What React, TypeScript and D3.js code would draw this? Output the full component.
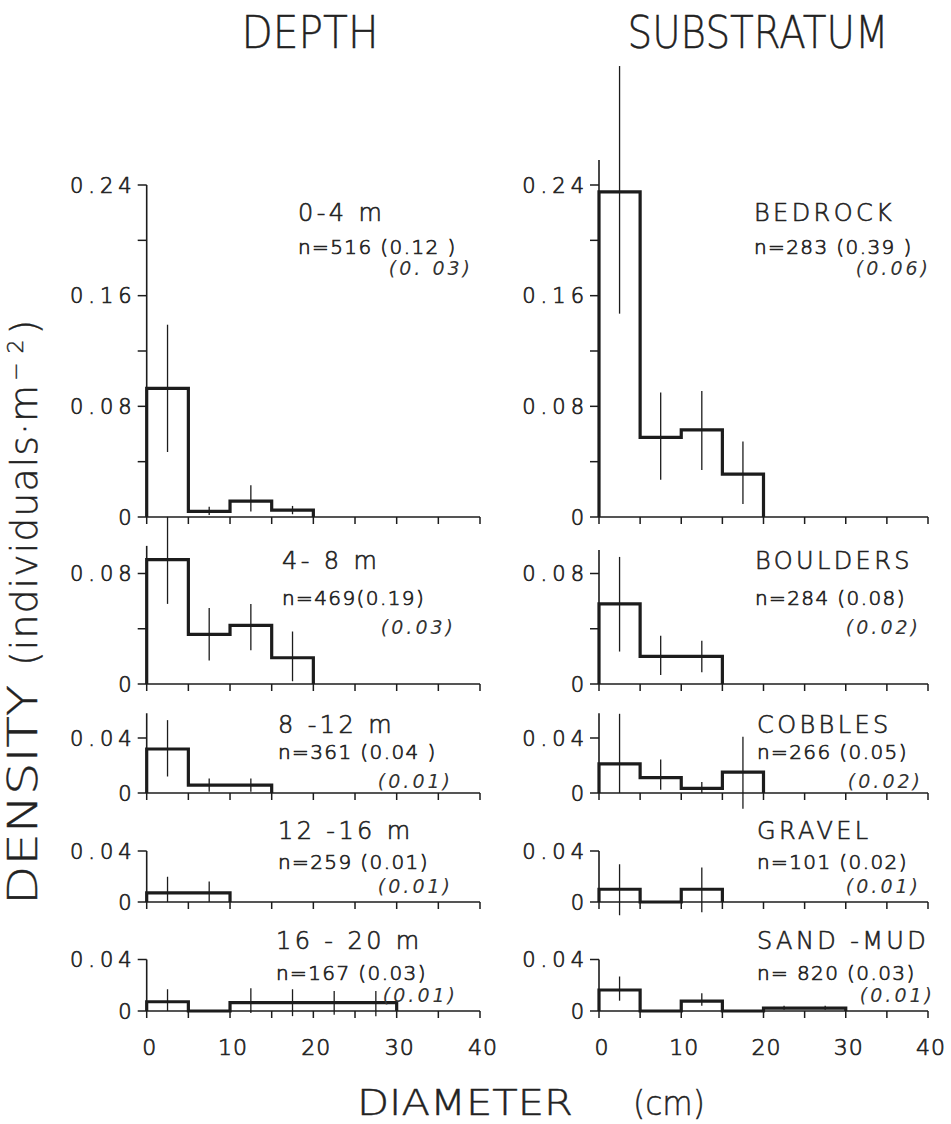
import React from "react";
import * as d3 from "d3";

// Diameter classes (cm): each value below is the density of one 5-cm class.
const binEdges = [0, 5, 10, 15, 20, 25, 30];
const xTicks = [0, 5, 10, 15, 20, 25, 30, 35, 40];
const xTickLabels = [0, 10, 20, 30, 40];

// DEPTH column
const depthNames = ["0-4 m", "4- 8 m", "8 -12 m", "12 -16 m", "16 - 20 m"];
const depthN = ["n=516 (0.12 )", "n=469(0.19)", "n=361 (0.04 )", "n=259 (0.01)", "n=167 (0.03)"];
const depthSE = ["(0. 03)", "(0.03)", "(0.01)", "(0.01)", "(0.01)"];
const depthDensity = [
  [0.093, 0.004, 0.0115, 0.005, 0, 0],
  [0.09, 0.036, 0.0425, 0.019, 0, 0],
  [0.032, 0.0057, 0.0057, 0, 0, 0],
  [0.0072, 0.0072, 0, 0, 0, 0],
  [0.0072, 0, 0.0065, 0.0065, 0.0065, 0.0065],
];
const depthLow = [
  [0.047, 0.0015, 0.004, 0.002, null, null],
  [0.058, 0.017, 0.0245, 0.002, null, null],
  [0.012, 0.001, 0.001, null, null, null],
  [0, 0, null, null, null, null],
  [0, null, -0.0015, -0.004, -0.003, -0.004],
];
const depthHigh = [
  [0.139, 0.0075, 0.023, 0.008, null, null],
  [0.121, 0.055, 0.058, 0.038, null, null],
  [0.053, 0.0106, 0.0106, null, null, null],
  [0.0198, 0.016, null, null, null, null],
  [0.0169, null, 0.0176, 0.0169, 0.0155, 0.0155],
];

// SUBSTRATUM column
const substrateNames = ["BEDROCK", "BOULDERS", "COBBLES", "GRAVEL", "SAND -MUD"];
const substrateN = ["n=283 (0.39 )", "n=284 (0.08)", "n=266 (0.05)", "n=101 (0.02)", "n= 820 (0.03)"];
const substrateSE = ["(0.06)", "(0.02)", "(0.02)", "(0.01)", "(0.01)"];
const substrateDensity = [
  [0.235, 0.0576, 0.063, 0.031, 0, 0],
  [0.058, 0.02, 0.02, 0, 0, 0],
  [0.0212, 0.0112, 0.0034, 0.0152, 0, 0],
  [0.01, 0, 0.01, 0, 0, 0],
  [0.0163, 0, 0.0077, 0, 0.0023, 0.0023],
];
const substrateLow = [
  [0.147, 0.027, 0.034, 0.0094, null, null],
  [0.0235, 0.0066, 0.0085, null, null, null],
  [0, 0.0024, 0, -0.0114, null, null],
  [-0.0104, null, -0.008, null, null, null],
  [0.008, null, 0.004, null, 0.001, 0.001],
];
const substrateHigh = [
  [0.326, 0.09, 0.091, 0.0545, null, null],
  [0.092, 0.035, 0.0314, null, null, null],
  [0.0576, 0.0243, 0.008, 0.041, null, null],
  [0.0296, null, 0.027, null, null, null],
  [0.0268, null, 0.0138, null, 0.004, 0.004],
];

// y-axis ticks per row
const rowTicks = [
  [0, 0.04, 0.08, 0.12, 0.16, 0.2, 0.24],
  [0, 0.04, 0.08],
  [0, 0.04],
  [0, 0.04],
  [0, 0.04],
];
const rowTickLabels = [
  [0, 0.08, 0.16, 0.24],
  [0, 0.08],
  [0, 0.04],
  [0, 0.04],
  [0, 0.04],
];

// ---- layout ----
const W = 951;
const H = 1124;
const FONT = "'DejaVu Sans', Verdana, sans-serif";
const INK = "#1c1c1c";
const TEXT_INK = "#222";

// light face, thickened slightly with a matching outline
const lettering = (w: number) => ({ fontWeight: 200, stroke: TEXT_INK, strokeWidth: w, fill: TEXT_INK });

const columns = [
  { x0: 146.7, x1: 480, nameX: [298, 282, 278, 278, 276], seX: [470, 453, 450, 450, 455], axisTop: [0.24, 0.1, 0.058, 0.04, 0.04] },
  { x0: 599, x1: 928, nameX: [754, 755, 757, 757, 757], seX: [928, 918, 920, 918, 932], axisTop: [0.258, 0.097, 0.058, 0.04, 0.04] },
];

// zero line, reference tick value and its pixel position, text baselines
const rows = [
  { zero: 517, refV: 0.24, refY: 185, text: [221, 254, 275] },
  { zero: 684, refV: 0.08, refY: 573.5, text: [569, 605, 634] },
  { zero: 793, refV: 0.04, refY: 738, text: [733, 759, 788] },
  { zero: 902, refV: 0.04, refY: 851, text: [839, 869, 893] },
  { zero: 1011, refV: 0.04, refY: 959.5, text: [949, 980, 1002] },
];

const fmtY = (v: number) => (v === 0 ? "0" : d3.format(".2f")(v));

type PanelProps = {
  col: number;
  row: number;
  density: number[];
  low: (number | null)[];
  high: (number | null)[];
  name: string;
  nText: string;
  seText: string;
};

function Panel({ col, row, density, low, high, name, nText, seText }: PanelProps) {
  const c = columns[col];
  const r = rows[row];
  const x = d3.scaleLinear().domain([0, 40]).range([c.x0, c.x1]);
  const y = d3.scaleLinear().domain([0, r.refV]).range([r.zero, r.refY]);

  // step outline of the histogram
  let last = density.length - 1;
  while (last > 0 && density[last] === 0) last--;
  const pts: [number, number][] = [[binEdges[0], 0]];
  for (let i = 0; i <= last; i++) {
    pts.push([binEdges[i], density[i]]);
    pts.push([binEdges[i + 1], density[i]]);
  }
  pts.push([binEdges[last + 1], 0]);
  const line = d3
    .line<[number, number]>()
    .x((d) => x(d[0]))
    .y((d) => y(d[1]));

  const tickLen = 9;
  const yLabelSpacing = 5;
  const showX = row === rows.length - 1;

  return (
    <g>
      {/* y axis */}
      <line x1={x(0)} x2={x(0)} y1={y(0)} y2={y(c.axisTop[row])} stroke={INK} strokeWidth={1.6} />
      {rowTicks[row].map((t) => (
        <line key={"yt" + t} x1={x(0) - tickLen} x2={x(0)} y1={y(t)} y2={y(t)} stroke={INK} strokeWidth={1.5} />
      ))}
      {rowTickLabels[row].map((t) => (
        <text
          key={"yl" + t}
          x={x(0) - tickLen - 6 + yLabelSpacing}
          y={y(t)}
          dy="0.36em"
          textAnchor="end"
          fontSize={21}
          letterSpacing={yLabelSpacing}
          {...lettering(0.7)}
        >
          {fmtY(t)}
        </text>
      ))}
      {/* x axis */}
      <line x1={x(0)} x2={x(40)} y1={y(0)} y2={y(0)} stroke={INK} strokeWidth={1.6} />
      {xTicks.map((t) => (
        <line key={"xt" + t} x1={x(t)} x2={x(t)} y1={y(0)} y2={y(0) + 7} stroke={INK} strokeWidth={1.5} />
      ))}
      {showX &&
        xTickLabels.map((t) => (
          <text key={"xl" + t} x={x(t) + 3} y={1055} textAnchor="middle" fontSize={22} letterSpacing={1} {...lettering(0.7)}>
            {t}
          </text>
        ))}
      {/* histogram */}
      <path d={line(pts) || ""} fill="none" stroke={INK} strokeWidth={3.2} strokeLinejoin="miter" />
      {/* error bars */}
      {density.map((_, i) => {
        const lo = low[i];
        const hi = high[i];
        if (lo === null || hi === null) return null;
        const cx = x((binEdges[i] + binEdges[i + 1]) / 2);
        return <line key={"e" + i} x1={cx} x2={cx} y1={y(lo)} y2={y(hi)} stroke={INK} strokeWidth={1.3} />;
      })}
      {/* annotations */}
      <text x={c.nameX[row]} y={r.text[0]} fontSize={24} letterSpacing={3.4} {...lettering(0.6)}>
        {name}
      </text>
      <text x={c.nameX[row]} y={r.text[1]} fontSize={20} letterSpacing={1.4} {...lettering(0.7)}>
        {nText}
      </text>
      <text
        x={c.seX[row] + 3}
        y={r.text[2]}
        fontSize={19}
        letterSpacing={3}
        fontStyle="italic"
        fontWeight={400}
        textAnchor="end"
        fill="#333"
      >
        {seText}
      </text>
    </g>
  );
}

export default function App() {
  return (
    <svg
      width={W}
      height={H}
      viewBox={`0 0 ${W} ${H}`}
      style={{ display: "block", position: "absolute", left: 0, top: 0, background: "#fff" }}
      fontFamily={FONT}
    >
      <rect width={W} height={H} fill="#fff" />
      {/* column titles */}
      <text x={310} y={48} fontSize={45} textAnchor="middle" textLength={137} lengthAdjust="spacingAndGlyphs" {...lettering(0.4)}>
        DEPTH
      </text>
      <text x={758} y={48} fontSize={45} textAnchor="middle" textLength={261} lengthAdjust="spacingAndGlyphs" {...lettering(0.4)}>
        SUBSTRATUM
      </text>

      {rows.map((_, i) => (
        <Panel
          key={"d" + i}
          col={0}
          row={i}
          density={depthDensity[i]}
          low={depthLow[i]}
          high={depthHigh[i]}
          name={depthNames[i]}
          nText={depthN[i]}
          seText={depthSE[i]}
        />
      ))}
      {rows.map((_, i) => (
        <Panel
          key={"s" + i}
          col={1}
          row={i}
          density={substrateDensity[i]}
          low={substrateLow[i]}
          high={substrateHigh[i]}
          name={substrateNames[i]}
          nText={substrateN[i]}
          seText={substrateSE[i]}
        />
      ))}

      {/* axis titles */}
      <text x={357} y={1115} fontSize={36} textLength={216} lengthAdjust="spacingAndGlyphs" {...lettering(0.45)}>
        DIAMETER
      </text>
      <text x={633} y={1115} fontSize={34} textLength={72} lengthAdjust="spacingAndGlyphs" {...lettering(0.45)}>
        (cm)
      </text>
      <g transform="rotate(-90)">
        <text x={-905} y={37} fontSize={40} textLength={220} lengthAdjust="spacingAndGlyphs" {...lettering(0.4)}>
          DENSITY
        </text>
        <text x={-666} y={37} fontSize={38} letterSpacing={1} {...lettering(0.4)}>
          (individuals·m
          <tspan fontSize={22} dy={-14} dx={3}>
            {"\u2212\u00a02"}
          </tspan>
          <tspan dy={14} dx={4}>
            )
          </tspan>
        </text>
      </g>
    </svg>
  );
}
